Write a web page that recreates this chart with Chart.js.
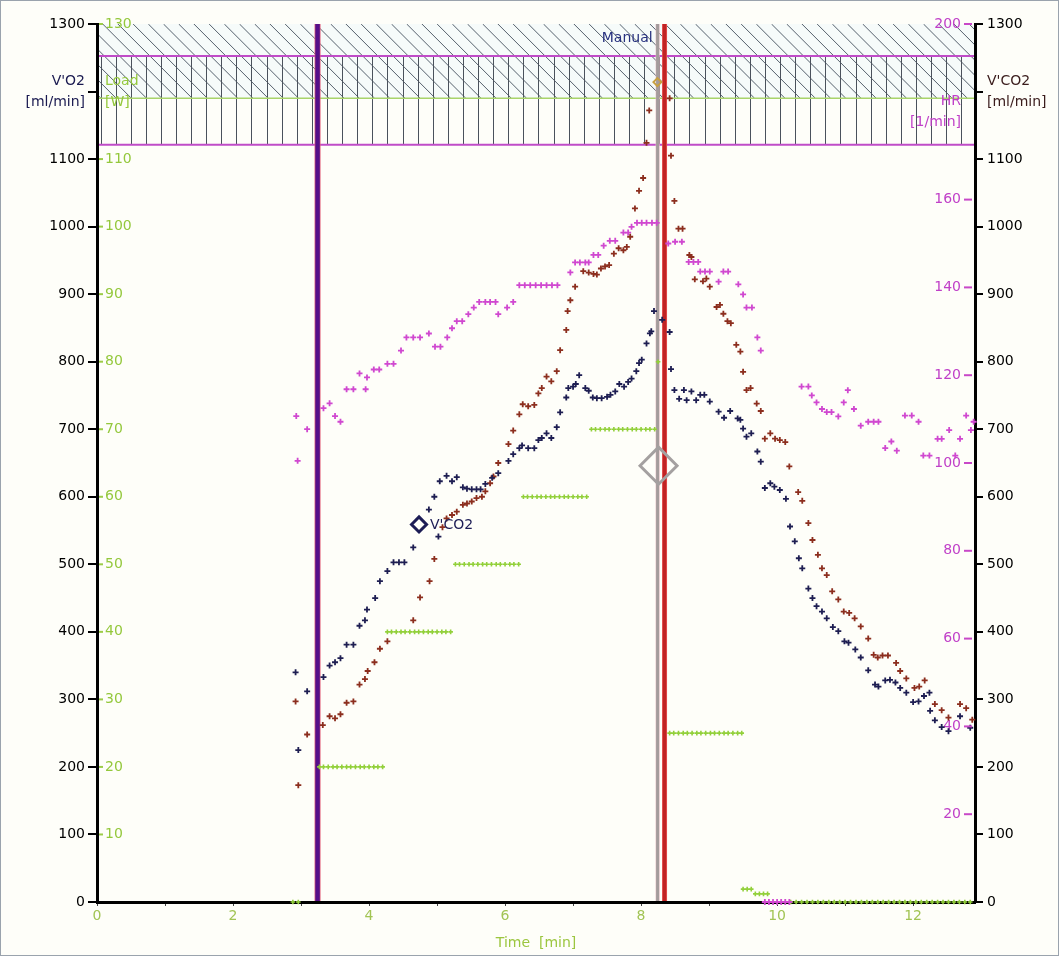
<!DOCTYPE html>
<html><head><meta charset="utf-8">
<script src="https://cdn.jsdelivr.net/npm/chart.js@4.4.1/dist/chart.umd.min.js"></script>
<style>html,body{margin:0;padding:0;background:#fff;}canvas{display:block;}</style>
</head><body>
<canvas id="c" width="1059" height="956"></canvas>
<script>
// ---- data ----
const vo2Time = [2.92,2.96,3.09,3.33,3.42,3.50,3.58,3.67,3.77,3.86,3.94,3.97,4.09,4.16,4.27,4.36,4.44,4.52,4.65,4.88,4.96,5.02,5.04,5.14,5.22,5.29,5.38,5.44,5.51,5.58,5.64,5.71,5.81,5.90,6.05,6.12,6.21,6.25,6.34,6.43,6.49,6.54,6.61,6.68,6.76,6.81,6.90,6.93,7.00,7.04,7.09,7.18,7.23,7.29,7.35,7.42,7.50,7.55,7.62,7.68,7.75,7.81,7.86,7.93,7.97,8.01,8.08,8.13,8.15,8.19,8.31,8.42,8.44,8.49,8.56,8.63,8.67,8.74,8.81,8.87,8.93,9.01,9.14,9.22,9.31,9.42,9.46,9.50,9.55,9.62,9.71,9.76,9.82,9.90,9.96,10.04,10.13,10.19,10.26,10.32,10.37,10.46,10.52,10.58,10.66,10.73,10.82,10.90,10.99,11.05,11.15,11.23,11.34,11.44,11.49,11.59,11.66,11.74,11.81,11.90,12.00,12.08,12.16,12.24,12.25,12.32,12.42,12.52,12.69,12.84];
const vo2Values = [340,225,312,333,350,355,361,381,381,409,417,433,450,475,490,503,503,503,525,581,600,541,623,631,623,629,614,612,611,611,611,619,628,635,653,663,672,676,672,672,684,687,694,687,703,725,747,761,763,767,780,761,757,747,746,746,748,751,756,767,763,770,775,786,798,803,827,842,845,875,862,844,789,758,745,758,743,756,743,751,751,741,726,717,727,716,714,701,689,694,667,652,613,620,615,610,597,556,534,509,494,464,450,438,430,420,407,401,386,384,374,362,343,322,319,328,329,325,317,310,296,297,305,310,283,269,259,253,275,258];

const vco2Time = [2.92,2.96,3.09,3.32,3.42,3.50,3.58,3.67,3.77,3.86,3.94,3.98,4.08,4.16,4.27,4.65,4.75,4.89,4.96,5.08,5.14,5.22,5.29,5.38,5.44,5.51,5.58,5.66,5.71,5.78,5.83,5.90,6.05,6.12,6.21,6.26,6.34,6.43,6.49,6.54,6.61,6.68,6.76,6.81,6.90,6.92,6.96,7.03,7.15,7.23,7.30,7.35,7.41,7.47,7.53,7.60,7.67,7.74,7.79,7.84,7.91,7.97,8.03,8.08,8.12,8.42,8.44,8.49,8.55,8.61,8.71,8.74,8.79,8.91,8.96,9.01,9.11,9.16,9.21,9.27,9.32,9.40,9.46,9.50,9.55,9.61,9.70,9.76,9.82,9.90,9.97,10.04,10.12,10.18,10.31,10.37,10.46,10.52,10.60,10.66,10.73,10.81,10.90,10.98,11.06,11.14,11.23,11.34,11.42,11.48,11.55,11.63,11.75,11.81,11.90,12.02,12.09,12.17,12.32,12.42,12.52,12.69,12.78,12.87];
const vco2Values = [297,173,248,262,275,272,278,295,297,322,330,342,355,375,386,417,451,475,508,555,568,573,578,588,590,593,598,600,608,620,630,650,678,698,722,737,734,736,753,761,778,771,786,817,847,875,891,911,934,932,930,929,938,941,943,960,968,965,970,985,1027,1053,1072,1124,1172,1190,1105,1038,997,997,958,955,922,919,923,911,881,884,871,860,857,825,815,785,758,761,738,727,686,694,686,684,681,645,607,594,561,536,514,494,484,460,448,430,428,420,408,390,366,362,365,365,354,342,331,317,319,328,293,284,273,293,287,270];

const hrTime = [2.93,2.95,3.09,3.33,3.42,3.50,3.58,3.67,3.77,3.86,3.95,3.97,4.07,4.15,4.27,4.36,4.47,4.55,4.65,4.75,4.88,4.97,5.05,5.15,5.22,5.29,5.37,5.46,5.54,5.62,5.71,5.78,5.86,5.90,6.03,6.12,6.21,6.29,6.37,6.45,6.53,6.61,6.69,6.77,6.96,7.03,7.10,7.18,7.23,7.30,7.37,7.45,7.54,7.62,7.74,7.81,7.86,7.94,8.01,8.08,8.16,8.23,8.40,8.50,8.60,8.70,8.77,8.84,8.87,8.94,9.01,9.14,9.21,9.28,9.43,9.50,9.55,9.63,9.71,9.76,9.82,9.88,9.94,10.00,10.06,10.12,10.18,10.36,10.46,10.51,10.58,10.66,10.73,10.80,10.90,10.98,11.04,11.13,11.23,11.34,11.42,11.49,11.59,11.68,11.76,11.88,11.98,12.08,12.15,12.24,12.36,12.42,12.53,12.62,12.69,12.78,12.85,12.89];
const hrValues = [110.7,100.5,107.7,112.5,113.6,110.7,109.4,116.8,116.8,120.4,116.8,119.5,121.3,121.3,122.6,122.6,125.6,128.6,128.6,128.6,129.5,126.5,126.5,128.6,130.7,132.3,132.3,133.9,135.4,136.7,136.7,136.7,136.7,133.9,135.4,136.7,140.5,140.5,140.5,140.5,140.5,140.5,140.5,140.5,143.4,145.7,145.7,145.7,145.7,147.4,147.4,149.5,150.6,150.6,152.5,152.5,153.8,154.7,154.7,154.7,154.7,154.7,150.0,150.4,150.4,145.8,145.8,145.8,143.6,143.6,143.6,141.3,143.6,143.6,140.7,138.4,135.4,135.4,128.6,125.6,0,0,0,0,0,0,0,117.4,117.4,115.4,113.8,112.3,111.6,111.6,110.6,113.8,116.6,112.3,108.5,109.4,109.4,109.4,103.4,104.9,102.8,110.8,110.8,109.4,101.7,101.7,105.5,105.5,107.5,101.7,105.5,110.8,107.5,109.4];

const loadTime = [2.88,2.96,
 3.27,3.33,3.40,3.47,3.53,3.60,3.67,3.73,3.80,3.87,3.93,4.00,4.07,4.13,4.20,
 4.27,4.33,4.40,4.47,4.53,4.60,4.67,4.73,4.80,4.87,4.93,5.00,5.07,5.13,5.20,
 5.27,5.33,5.40,5.47,5.53,5.60,5.67,5.73,5.80,5.87,5.93,6.00,6.07,6.13,6.20,
 6.27,6.33,6.40,6.47,6.53,6.60,6.67,6.73,6.80,6.87,6.93,7.00,7.07,7.13,7.20,
 7.27,7.33,7.40,7.47,7.53,7.60,7.67,7.73,7.80,7.87,7.93,8.00,8.07,8.13,8.20,
 8.25,
 8.42,8.48,8.55,8.62,8.68,8.75,8.82,8.88,8.95,9.02,9.08,9.15,9.22,9.28,9.35,9.42,9.48,
 9.50,9.56,9.62,9.68,9.74,9.80,9.86,
 10.20,10.28,10.36,10.44,10.52,10.60,10.68,10.76,10.84,10.92,11.00,11.08,11.16,11.24,11.32,11.40,11.48,11.56,11.64,11.72,11.80,11.88,11.96,12.04,12.12,12.20,12.28,12.36,12.44,12.52,12.60,12.68,12.76,12.84];
const loadValues = [0,0,
 20,20,20,20,20,20,20,20,20,20,20,20,20,20,20,
 40,40,40,40,40,40,40,40,40,40,40,40,40,40,40,
 50,50,50,50,50,50,50,50,50,50,50,50,50,50,50,
 60,60,60,60,60,60,60,60,60,60,60,60,60,60,60,
 70,70,70,70,70,70,70,70,70,70,70,70,70,70,70,
 80,
 25,25,25,25,25,25,25,25,25,25,25,25,25,25,25,25,25,
 1.9,1.9,1.9,1.2,1.2,1.2,1.2,
 0,0,0,0,0,0,0,0,0,0,0,0,0,0,0,0,0,0,0,0,0,0,0,0,0,0,0,0,0,0,0,0,0,0];

const markerTimes = [4.735, 8.257, 8.24];
const markerValues = [559, 646, 1214];
const markerLabels = ["V'CO2", "", ""];

const eventTimes = [3.243, 8.243, 8.345];
const eventLabels = ["", "Manual", ""];

const loadBandRange = [119, 130];
const hrBandRange = [172.5, 192.7];

const xTickLabels = [0, 2, 4, 6, 8, 10, 12];
const vo2TickTitle = ["V'O2", "[ml/min]"];
const vco2TickTitle = ["V'CO2", "[ml/min]"];
const loadTickTitle = ["Load", "[W]"];
const hrTickTitle = ["HR", "[1/min]"];

// ---- chart ----
const F = 'DejaVu Sans';
Chart.defaults.font.family = F;
const pts = (xs, ys) => xs.map((x, i) => ({x: x, y: ys[i]}));

const bgPlugin = {
  id: 'bg',
  beforeDraw(chart) {
    const {ctx, chartArea: a, scales} = chart;
    ctx.save();
    ctx.fillStyle = '#fefef9'; ctx.fillRect(0, 0, chart.width, chart.height);
    ctx.restore();

    ctx.save();
    ctx.beginPath(); ctx.rect(a.left + 1, a.top, a.right - a.left - 2, a.bottom - a.top); ctx.clip();
    const yA1 = scales.yLoad.getPixelForValue(loadBandRange[1]);
    const yA0 = scales.yLoad.getPixelForValue(loadBandRange[0]);
    const h = yA0 - yA1;
    ctx.fillStyle = '#f6fbfa'; ctx.fillRect(a.left, yA1, a.right - a.left, h);
    ctx.strokeStyle = '#55606c'; ctx.lineWidth = 1;
    ctx.beginPath();
    for (let x = a.left - h + 4; x < a.right; x += 15.2) { ctx.moveTo(x, yA1); ctx.lineTo(x + h, yA0); }
    ctx.stroke();
    const yB1 = scales.yHR.getPixelForValue(hrBandRange[1]);
    const yB0 = scales.yHR.getPixelForValue(hrBandRange[0]);
    ctx.strokeStyle = '#4a525c'; ctx.lineWidth = 1;
    ctx.beginPath();
    for (let x = a.left + 3.5; x < a.right; x += 15.1) { ctx.moveTo(Math.round(x) + 0.5, yB1); ctx.lineTo(Math.round(x) + 0.5, yB0); }
    ctx.stroke();
    ctx.strokeStyle = '#a8d46a'; ctx.lineWidth = 1.5;
    ctx.beginPath(); ctx.moveTo(a.left, yA0); ctx.lineTo(a.right, yA0); ctx.stroke();
    ctx.strokeStyle = '#c04cc8'; ctx.lineWidth = 2;
    ctx.beginPath(); ctx.moveTo(a.left, yB1); ctx.lineTo(a.right, yB1); ctx.moveTo(a.left, yB0); ctx.lineTo(a.right, yB0); ctx.stroke();
    ctx.restore();

    const styles = [
      [{c: '#e0607a', w: 6}, {c: '#55108a', w: 4.5}],
      [{c: '#e8c0c6', w: 4}, {c: '#a49c9c', w: 3}],
      [{c: '#e04848', w: 5}, {c: '#c02424', w: 3}]
    ];
    ctx.save();
    eventTimes.forEach((t, i) => {
      const x = scales.x.getPixelForValue(t);
      styles[i].forEach(s => {
        ctx.strokeStyle = s.c; ctx.lineWidth = s.w;
        ctx.beginPath(); ctx.moveTo(x, a.top); ctx.lineTo(x, a.bottom - 1); ctx.stroke();
      });
      if (eventLabels[i]) {
        ctx.fillStyle = '#27307e'; ctx.font = '14px ' + F;
        ctx.textAlign = 'right'; ctx.textBaseline = 'middle';
        ctx.fillText(eventLabels[i], x - 5, a.top + 14);
      }
    });
    ctx.restore();
  },
  afterDatasetsDraw(chart) {
    const {ctx, scales} = chart;
    ctx.save();
    ctx.font = '14px ' + F; ctx.fillStyle = '#1c1c55';
    ctx.textAlign = 'left'; ctx.textBaseline = 'middle';
    markerTimes.forEach((t, i) => {
      if (!markerLabels[i]) return;
      ctx.fillText(markerLabels[i], scales.x.getPixelForValue(t) + 11, scales.yL.getPixelForValue(markerValues[i]) + 1);
    });
    ctx.restore();
  },
  afterDraw(chart) {
    const {ctx, chartArea: a, scales} = chart;
    ctx.save();
    ctx.lineWidth = 2;
    ctx.strokeStyle = '#9ccc48';
    scales.yLoad.ticks.forEach((tk, i) => {
      if (!tk.label || tk.value === 0 || Array.isArray(tk.label)) return;
      const y = scales.yLoad.getPixelForTick(i);
      ctx.beginPath(); ctx.moveTo(a.left + 2, y); ctx.lineTo(a.left + 6, y); ctx.stroke();
    });
    ctx.strokeStyle = '#c848c8';
    scales.yHR.ticks.forEach((tk, i) => {
      if (!tk.label || tk.value === 0 || Array.isArray(tk.label)) return;
      const y = scales.yHR.getPixelForTick(i);
      ctx.beginPath(); ctx.moveTo(a.right - 11, y); ctx.lineTo(a.right - 3, y); ctx.stroke();
    });
    ctx.strokeStyle = '#9aa3ad'; ctx.lineWidth = 1;
    ctx.strokeRect(0.5, 0.5, chart.width - 1, chart.height - 1);
    ctx.restore();
  }
};

const cross = (color, r, w) => ({
  showLine: false, pointStyle: 'cross', pointRadius: r, pointHoverRadius: r,
  borderColor: color, backgroundColor: color, pointBorderWidth: w, borderWidth: w, clip: false
});

new Chart(document.getElementById('c'), {
  type: 'scatter',
  data: {
    datasets: [
      {label: 'markers', data: pts(markerTimes, markerValues), yAxisID: 'yL', showLine: false,
       pointStyle: 'rectRot', pointRadius: [7.5, 18.5, 4], pointBorderWidth: [3, 3, 2],
       pointBorderColor: ['#1c1c55', '#a4a0a0', '#c8a040'], pointBackgroundColor: 'rgba(0,0,0,0)', clip: false},
      Object.assign({label: "V'O2", data: pts(vo2Time, vo2Values), yAxisID: 'yL'}, cross('#1e1e52', 3, 1.8)),
      Object.assign({label: "V'CO2", data: pts(vco2Time, vco2Values), yAxisID: 'yL'}, cross('#8c2e1e', 3, 1.8)),
      Object.assign({label: 'HR', data: pts(hrTime, hrValues), yAxisID: 'yHR'}, cross('#d048d0', 3, 1.8)),
      Object.assign({label: 'Load', data: pts(loadTime, loadValues), yAxisID: 'yLoad'}, cross('#92d03a', 2.3, 1.6))
    ]
  },
  options: {
    responsive: false, animation: false, devicePixelRatio: 1,
    layout: {padding: {top: 24, left: 0, right: 0, bottom: 0}},
    plugins: {legend: {display: false}, tooltip: {enabled: false}, title: {display: false}},
    scales: {
      x: {
        type: 'linear', position: 'bottom', min: 0, max: 12.91,
        ticks: {stepSize: 1, includeBounds: false, autoSkip: false, maxRotation: 0, padding: 2,
                color: '#a2c454', font: {size: 14},
                callback: v => xTickLabels.includes(v) ? String(v) : ''},
        grid: {drawOnChartArea: false, drawTicks: true, tickLength: 4, color: '#444', lineWidth: 1},
        border: {display: true, color: '#000', width: 3},
        title: {display: true, text: 'Time  [min]', color: '#9cc640', font: {size: 14}, padding: {top: 0, bottom: 4}},
        afterFit(s) { s.height = 54; }
      },
      yLoad: {
        type: 'linear', position: 'left', min: 0, max: 130,
        ticks: {mirror: true, stepSize: 10, autoSkip: false, padding: 8, color: '#94c83c',
                font: {size: 14, lineHeight: 1.5},
                callback: v => v === 120 ? loadTickTitle : (v === 0 ? '' : String(v))},
        grid: {display: false}, border: {display: false},
        afterFit(s) { s.width = 0; }
      },
      yL: {
        type: 'linear', position: 'left', min: 0, max: 1300,
        ticks: {stepSize: 100, autoSkip: false, padding: 3, font: {size: 14, lineHeight: 1.5},
                color: c => (c.tick && c.tick.value === 1200) ? '#1a1a50' : '#000',
                callback: v => v === 1200 ? vo2TickTitle : String(v)},
        grid: {drawOnChartArea: false, drawTicks: true, tickLength: 9, color: '#000', lineWidth: 2},
        border: {display: true, color: '#000', width: 3},
        afterFit(s) { s.width = 97; }
      },
      yHR: {
        type: 'linear', position: 'right', min: 0, max: 200,
        ticks: {mirror: true, stepSize: 20, autoSkip: false, padding: -14, color: '#c040c8',
                font: {size: 14, lineHeight: 1.5},
                callback: v => v === 180 ? hrTickTitle : (v === 0 ? '' : String(v))},
        grid: {display: false}, border: {display: false},
        afterFit(s) { s.width = 0; }
      },
      yR: {
        type: 'linear', position: 'right', min: 0, max: 1300,
        ticks: {stepSize: 100, autoSkip: false, padding: 4, font: {size: 14, lineHeight: 1.5},
                color: c => (c.tick && c.tick.value === 1200) ? '#3a1c1c' : '#000',
                callback: v => v === 1200 ? vco2TickTitle : String(v)},
        grid: {drawOnChartArea: false, drawTicks: true, tickLength: 8, color: '#000', lineWidth: 2},
        border: {display: true, color: '#000', width: 3},
        afterFit(s) { s.width = 84; }
      }
    }
  },
  plugins: [bgPlugin]
});
</script>
</body></html>
